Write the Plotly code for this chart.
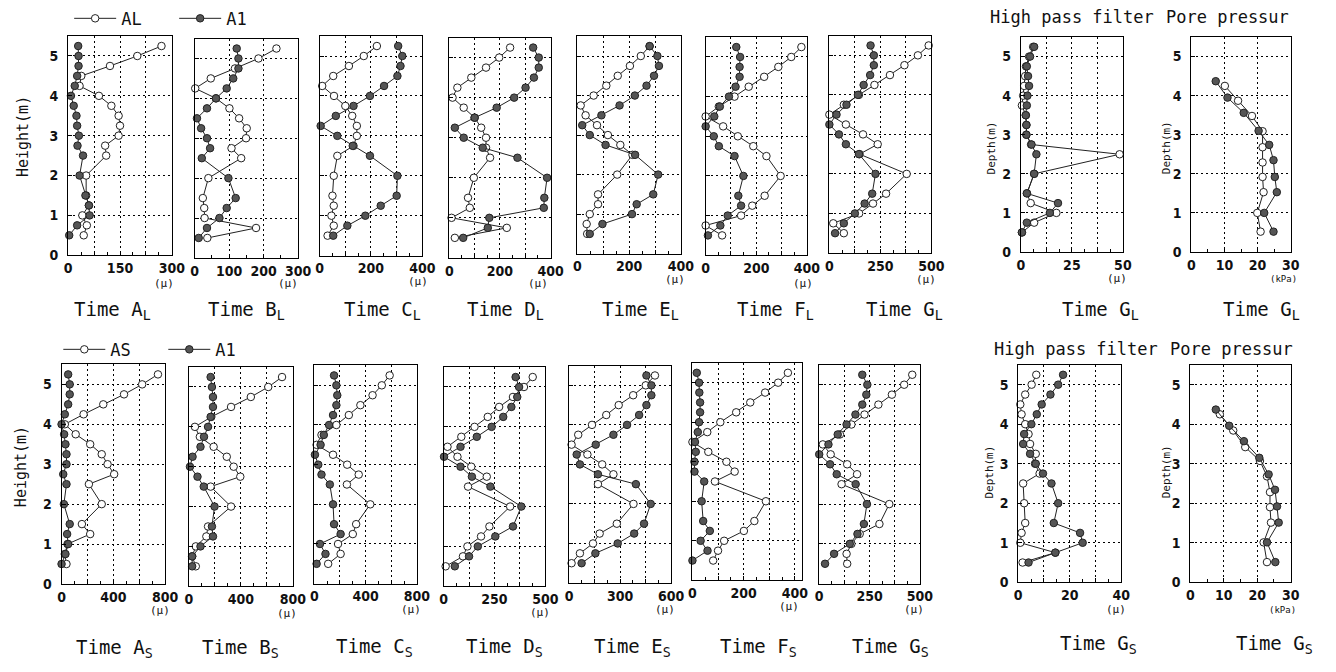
import plotly.graph_objects as go

W, H = 1336, 672

# ---------------- DATA ----------------
HEIGHTS = [5.25, 5.0, 4.75, 4.5, 4.25, 4.0, 3.75, 3.5, 3.25, 3.0, 2.75, 2.5, 2.0, 1.5, 1.25, 1.0, 0.75, 0.5]

# Top row (L series): open = AL, filled = A1  (micro strain)
A_L_AL = [270, 200, 121, 38, 33, 89, 125, 146, 150, 146, 107, 110, 52, 52, 60, 41, 54, 45]
A_L_A1 = [29, 30, 30, 26, 19, 8, 16, 24, 26, 31, 27, 43, 33, 50, 60, 62, 26, 3]
B_L_AL = [237, 185, 117, 47, 2, 62, 101, 129, 151, 149, 107, 135, 40, 24, 28, 29, 178, 37]
B_L_A1 = [122, 127, 127, 112, 93, 62, 36, 7, 19, 36, 45, 21, 98, 119, 93, 72, 36, 12]
C_L_AL = [223, 172, 114, 53, 10, 56, 100, 127, 145, 145, 132, 69, 55, 50, 55, 46, 55, 31]
C_L_A1 = [306, 322, 315, 303, 251, 196, 132, 63, 4, 69, 129, 196, 303, 300, 238, 178, 108, 53]
D_L_AL = [240, 197, 145, 87, 32, 13, 57, 100, 126, 145, 145, 161, 97, 74, 81, 9, 227, 22]
D_L_A1 = [331, 353, 353, 334, 301, 256, 187, 100, 22, 57, 132, 269, 386, 375, 373, 158, 152, 55]
E_L_AL = [279, 245, 203, 156, 112, 63, 13, 32, 76, 118, 166, 213, 154, 80, 80, 48, 36, 38]
E_L_A1 = [279, 309, 315, 296, 267, 222, 163, 93, 19, 48, 109, 223, 312, 293, 229, 211, 97, 48]
F_L_AL = [378, 338, 287, 231, 170, 114, 52, 0, 69, 127, 188, 240, 296, 233, 184, 140, 0, 65]
F_L_A1 = [121, 136, 134, 134, 118, 92, 56, 34, 0, 32, 52, 114, 149, 129, 140, 87, 58, 9]
G_L_AL = [487, 434, 368, 297, 221, 145, 71, 0, 81, 165, 237, 148, 379, 278, 214, 146, 19, 71]
G_L_A1 = [202, 218, 218, 200, 168, 140, 84, 35, 0, 47, 81, 145, 226, 210, 173, 125, 71, 28]
HPF_L_AL = [6.0, 4.0, 2.5, 2.1, 1.6, 1.1, 0.5, 2.4, 2.7, 2.7, 5.0, 48.4, 6.5, 3.0, 4.8, 17.4, 6.5, 0.5]
HPF_L_A1 = [6.5, 4.5, 2.9, 3.5, 4.0, 3.2, 2.9, 2.4, 2.7, 2.7, 5.2, 7.6, 6.5, 2.9, 18.2, 14.2, 2.9, 0.5]
PORE_L_DEPTH_A1 = [4.37, 3.95, 3.56, 3.10, 2.74, 2.35, 1.92, 1.53, 1.00, 0.52]
PORE_L_A1 = [7.35, 10.9, 15.8, 20.3, 23.5, 24.8, 25.2, 25.8, 22.0, 24.8]
PORE_L_DEPTH_AL = [4.25, 3.87, 3.48, 3.09, 2.68, 2.29, 1.92, 1.53, 1.00, 0.52]
PORE_L_AL = [10.1, 14.1, 18.3, 21.5, 21.5, 21.5, 21.5, 21.8, 19.9, 20.9]

# Bottom row (S series): open = AS, filled = A1
A_S_AS = [744, 622, 482, 322, 170, 25, 109, 221, 310, 355, 406, 211, 310, 157, 221, 46, 25, 38]
A_S_A1 = [51, 63, 63, 51, 25, 0, 20, 30, 38, 38, 13, 38, 18, 63, 43, 51, 30, 0]
B_S_AS = [716, 610, 476, 324, 172, 46, 84, 190, 291, 344, 395, 167, 324, 147, 134, 53, 25, 53]
B_S_A1 = [167, 177, 185, 185, 167, 147, 116, 89, 28, 8, 66, 114, 197, 177, 185, 89, 25, 25]
C_S_AS = [587, 526, 454, 359, 269, 172, 56, 18, 146, 256, 346, 254, 436, 326, 300, 185, 205, 108]
C_S_A1 = [154, 172, 179, 172, 146, 115, 74, 49, 5, 31, 56, 121, 146, 154, 205, 44, 87, 18]
D_S_AS = [438, 395, 341, 273, 217, 152, 87, 19, 68, 136, 212, 120, 327, 225, 184, 117, 95, 10]
D_S_A1 = [354, 371, 362, 333, 293, 236, 163, 83, 2, 83, 139, 230, 382, 341, 254, 168, 125, 55]
E_S_AS = [505, 451, 377, 292, 219, 135, 54, 15, 108, 195, 261, 170, 379, 281, 180, 141, 64, 15]
E_S_A1 = [455, 484, 484, 455, 412, 341, 261, 157, 45, 64, 170, 393, 480, 441, 383, 286, 155, 74]
F_S_AS = [373, 335, 284, 226, 171, 109, 58, 0, 62, 133, 165, 88, 287, 242, 201, 124, 100, 81]
F_S_A1 = [17, 26, 27, 30, 30, 26, 21, 10, 13, 8, 8, 46, 36, 42, 68, 32, 59, 0]
G_S_AS = [462, 422, 361, 294, 225, 160, 103, 18, 57, 139, 188, 111, 348, 299, 201, 160, 136, 139]
G_S_A1 = [214, 239, 234, 214, 180, 136, 92, 46, 0, 54, 87, 181, 237, 222, 190, 152, 74, 29]
HPF_S_AS = [7.0, 5.2, 2.7, 0.8, 1.3, 2.7, 4.0, 4.6, 6.8, 6.5, 8.3, 1.9, 2.3, 2.7, 1.3, 0.8, 14.4, 1.7]
HPF_S_A1 = [17.4, 15.5, 12.5, 9.1, 7.2, 5.1, 2.3, 1.9, 4.6, 6.8, 9.6, 12.9, 15.5, 13.8, 24.0, 25.0, 14.4, 4.0]
PORE_S_DEPTH_A1 = [4.37, 3.96, 3.57, 3.15, 2.73, 2.34, 1.92, 1.51, 1.01, 0.51]
PORE_S_A1 = [7.6, 11.6, 16.0, 20.6, 23.4, 25.3, 25.9, 26.4, 22.9, 25.4]
PORE_S_DEPTH_AS = [4.25, 3.84, 3.42, 3.07, 2.68, 2.28, 1.90, 1.51, 1.01, 0.51]
PORE_S_AS = [8.8, 12.8, 16.4, 20.8, 22.9, 23.8, 23.8, 24.1, 21.9, 22.9]

Y_TICKS = [0, 1, 2, 3, 4, 5]

# panel titles
TITLES_TOP = ["Time A<sub>L</sub>", "Time B<sub>L</sub>", "Time C<sub>L</sub>", "Time D<sub>L</sub>",
              "Time E<sub>L</sub>", "Time F<sub>L</sub>", "Time G<sub>L</sub>", "Time G<sub>L</sub>", "Time G<sub>L</sub>"]
TITLES_BOT = ["Time A<sub>S</sub>", "Time B<sub>S</sub>", "Time C<sub>S</sub>", "Time D<sub>S</sub>",
              "Time E<sub>S</sub>", "Time F<sub>S</sub>", "Time G<sub>S</sub>", "Time G<sub>S</sub>", "Time G<sub>S</sub>"]

# x tick values (grid) and which are labelled
XT = {
    "A_L": ([0, 75, 150, 225, 300], [0, 150, 300]),
    "B_L": ([0, 100, 200, 300], [0, 100, 200, 300]),
    "C_L": ([0, 100, 200, 300, 400], [0, 200, 400]),
    "D_L": ([0, 100, 200, 300, 400], [0, 200, 400]),
    "E_L": ([0, 100, 200, 300, 400], [0, 200, 400]),
    "F_L": ([0, 100, 200, 300, 400], [0, 200, 400]),
    "G_L": ([0, 125, 250, 375, 500], [0, 250, 500]),
    "HPF_L": ([0, 12.5, 25, 37.5, 50], [0, 25, 50]),
    "PORE_L": ([0, 10, 20, 30], [0, 10, 20, 30]),
    "A_S": ([0, 200, 400, 600, 800], [0, 400, 800]),
    "B_S": ([0, 200, 400, 600, 800], [0, 400, 800]),
    "C_S": ([0, 200, 400, 600, 800], [0, 400, 800]),
    "D_S": ([0, 125, 250, 375, 500], [0, 250, 500]),
    "E_S": ([0, 150, 300, 450, 600], [0, 300, 600]),
    "F_S": ([0, 100, 200, 300, 400], [0, 200, 400]),
    "G_S": ([0, 125, 250, 375, 500], [0, 250, 500]),
    "HPF_S": ([0, 10, 20, 30, 40], [0, 20, 40]),
    "PORE_S": ([0, 10, 20, 30], [0, 10, 20, 30]),
}

# ---------------- PANELS ----------------
PANELS = [
    ("A_L", A_L_AL, HEIGHTS, A_L_A1, HEIGHTS, "(μ)"),
    ("B_L", B_L_AL, HEIGHTS, B_L_A1, HEIGHTS, "(μ)"),
    ("C_L", C_L_AL, HEIGHTS, C_L_A1, HEIGHTS, "(μ)"),
    ("D_L", D_L_AL, HEIGHTS, D_L_A1, HEIGHTS, "(μ)"),
    ("E_L", E_L_AL, HEIGHTS, E_L_A1, HEIGHTS, "(μ)"),
    ("F_L", F_L_AL, HEIGHTS, F_L_A1, HEIGHTS, "(μ)"),
    ("G_L", G_L_AL, HEIGHTS, G_L_A1, HEIGHTS, "(μ)"),
    ("HPF_L", HPF_L_AL, HEIGHTS, HPF_L_A1, HEIGHTS, "(μ)"),
    ("PORE_L", PORE_L_AL, PORE_L_DEPTH_AL, PORE_L_A1, PORE_L_DEPTH_A1, "(kPa)"),
    ("A_S", A_S_AS, HEIGHTS, A_S_A1, HEIGHTS, "(μ)"),
    ("B_S", B_S_AS, HEIGHTS, B_S_A1, HEIGHTS, "(μ)"),
    ("C_S", C_S_AS, HEIGHTS, C_S_A1, HEIGHTS, "(μ)"),
    ("D_S", D_S_AS, HEIGHTS, D_S_A1, HEIGHTS, "(μ)"),
    ("E_S", E_S_AS, HEIGHTS, E_S_A1, HEIGHTS, "(μ)"),
    ("F_S", F_S_AS, HEIGHTS, F_S_A1, HEIGHTS, "(μ)"),
    ("G_S", G_S_AS, HEIGHTS, G_S_A1, HEIGHTS, "(μ)"),
    ("HPF_S", HPF_S_AS, HEIGHTS, HPF_S_A1, HEIGHTS, "(μ)"),
    ("PORE_S", PORE_S_AS, PORE_S_DEPTH_AS, PORE_S_A1, PORE_S_DEPTH_A1, "(kPa)"),
]

# layout geometry in pixels: x-left(0), x-right(max), xmax, y of 0, y of 5.5, show y labels,
# unit label position, title position
GEOM = [
    (65.0, 170.0, 300, 258.3, 36.5, True, (162, 287), (110, 314)),
    (193.0, 298.0, 300, 261.0, 39.0, False, (288, 287), (246, 314)),
    (319.7, 423.7, 400, 258.7, 36.5, False, (419, 285), (383, 314)),
    (451.0, 553.7, 400, 261.0, 38.0, False, (541, 287), (508, 314)),
    (580.7, 685.7, 400, 256.7, 36.7, False, (680, 283), (645, 314)),
    (710.7, 813.3, 400, 258.3, 37.6, False, (809, 287), (781, 314)),
    (836.0, 939.3, 500, 256.0, 36.0, False, (934, 283), (912, 314)),
    (1030.0, 1133.3, 50, 255.0, 37.5, True, (1127, 282), (1111, 314)),
    (1202.7, 1303.3, 30, 255.0, 37.5, True, (1296, 282), (1274, 314)),
    (58.3, 163.3, 800, 591.0, 368.8, True, (158, 618), (112, 656)),
    (187.3, 292.7, 800, 593.3, 371.5, False, (287, 621), (240, 656)),
    (314.3, 418.3, 800, 590.7, 369.9, False, (412, 617), (375, 655)),
    (445.3, 548.3, 500, 593.3, 371.5, False, (543, 620), (507, 655)),
    (572.3, 675.7, 600, 590.0, 370.0, False, (670, 617), (637, 655)),
    (697.3, 808.0, 427, 587.3, 367.3, False, (795, 614), (764, 655)),
    (825.7, 927.7, 500, 590.7, 369.2, False, (922, 617), (898, 655)),
    (1027.3, 1131.7, 40, 589.3, 369.3, True, (1126, 617), (1109, 652)),
    (1201.7, 1303.3, 30, 589.3, 369.3, True, (1295, 617), (1287, 652)),
]

TICKFONT = dict(family="Liberation Sans Narrow, DejaVu Sans Condensed, Arial Narrow, Liberation Sans, sans-serif",
                size=14, color="#111", weight="bold")
MONO = "DejaVu Sans Mono, Liberation Mono, monospace"
GRIDDASH = "2px,3px"


def px(x):
    return x / W


def py(y):
    return 1 - y / H


fig = go.Figure()
layout = {}
annotations = []

for i, (panel, g) in enumerate(zip(PANELS, GEOM)):
    key, ox, oy, fx, fy, unit = panel
    x0, x1, xmax, y0, ytop, showy, upos, tpos = g
    n = "" if i == 0 else str(i + 1)
    xa, ya = "x" + n, "y" + n
    legend_name = None
    show_leg = False
    if key == "A_L":
        names = ("AL", "A1"); legend_name = "legend"; show_leg = True
    elif key == "A_S":
        names = ("AS", "A1"); legend_name = "legend2"; show_leg = True
    else:
        names = ("open", "A1")
    tr_kw = dict(xaxis=xa, yaxis=ya, mode="lines+markers", cliponaxis=False)
    o = go.Scatter(x=ox, y=oy, name=names[0], showlegend=show_leg,
                   line=dict(color="#222", width=1),
                   marker=dict(symbol="circle", size=7.5, color="white", line=dict(color="#222", width=1)),
                   **tr_kw)
    f = go.Scatter(x=fx, y=fy, name=names[1], showlegend=show_leg,
                   line=dict(color="#222", width=1),
                   marker=dict(symbol="circle", size=7.5, color="#555", line=dict(color="#222", width=1)),
                   **tr_kw)
    if legend_name:
        o.legend = legend_name
        f.legend = legend_name
    fig.add_trace(o)
    fig.add_trace(f)

    tv, lab = XT[key]
    tt = [("%g" % v) if v in lab else "" for v in tv]
    layout["xaxis" + n] = dict(
        domain=[px(x0), px(x1)], range=[0, xmax], anchor=ya,
        tickmode="array", tickvals=tv, ticktext=tt,
        showgrid=True, gridcolor="#000", griddash=GRIDDASH, gridwidth=1,
        showline=True, linecolor="#000", linewidth=1, mirror=True,
        ticks="inside", ticklen=4, tickcolor="#000",
        minor=dict(tickmode="linear", tick0=0, dtick=tv[1] / 2,
                   ticks="inside", ticklen=3, tickcolor="#000", showgrid=False),
        tickfont=TICKFONT, zeroline=False, fixedrange=True,
    )
    layout["yaxis" + n] = dict(
        domain=[py(y0), py(ytop)], range=[0, 5.5], anchor=xa,
        tickmode="array", tickvals=Y_TICKS,
        showgrid=True, gridcolor="#000", griddash=GRIDDASH, gridwidth=1,
        showline=True, linecolor="#000", linewidth=1, mirror=True,
        ticks="inside", ticklen=4, tickcolor="#000",
        showticklabels=showy, ticklabelstandoff=6,
        tickfont=TICKFONT, zeroline=False, fixedrange=True,
    )
    annotations.append(dict(x=px(upos[0]), y=py(upos[1]), xref="paper", yref="paper",
                            text=unit, showarrow=False, xanchor="center", yanchor="middle",
                            font=dict(family=MONO, size=11 if unit == "(μ)" else 9, color="#111")))
    title = (TITLES_TOP + TITLES_BOT)[i]
    annotations.append(dict(x=px(tpos[0]), y=py(tpos[1]), xref="paper", yref="paper",
                            text=title, showarrow=False, xanchor="center", yanchor="middle",
                            font=dict(family=MONO, size=19, color="#111")))

# axis titles and headers
for (txt, x, y, s) in [("Height(m)", 20, 138, 15), ("Height(m)", 18, 472, 15),
                       ("Depth(m)", 1000, 150, 11), ("Depth(m)", 1177, 150, 11),
                       ("Depth(m)", 998, 478, 11), ("Depth(m)", 1177, 478, 11)]:
    annotations.append(dict(x=px(x), y=py(y), xref="paper", yref="paper", text=txt,
                            showarrow=False, textangle=-90, xanchor="center", yanchor="middle",
                            font=dict(family=MONO, size=s, color="#111")))
for (txt, x, y) in [("High pass filter", 1082, 17), ("Pore pressur", 1239, 17),
                    ("High pass filter", 1086, 353), ("Pore pressur", 1243, 353)]:
    annotations.append(dict(x=px(x), y=py(y), xref="paper", yref="paper", text=txt,
                            showarrow=False, xanchor="center", yanchor="middle",
                            font=dict(family=MONO, size=17, color="#111")))

leg_common = dict(orientation="h", xanchor="left", yanchor="middle", bgcolor="rgba(0,0,0,0)",
                  font=dict(family=MONO, size=17, color="#111"), entrywidth=48, entrywidthmode="pixels",
                  itemwidth=42, borderwidth=0)
layout["legend"] = dict(x=px(66), y=py(19), **leg_common)
layout["legend2"] = dict(x=px(55), y=py(354), **leg_common)

fig.update_layout(width=W, height=H, margin=dict(l=0, r=0, t=0, b=0),
                  paper_bgcolor="white", plot_bgcolor="white",
                  annotations=annotations, **layout)

fig.write_html("out.html")
